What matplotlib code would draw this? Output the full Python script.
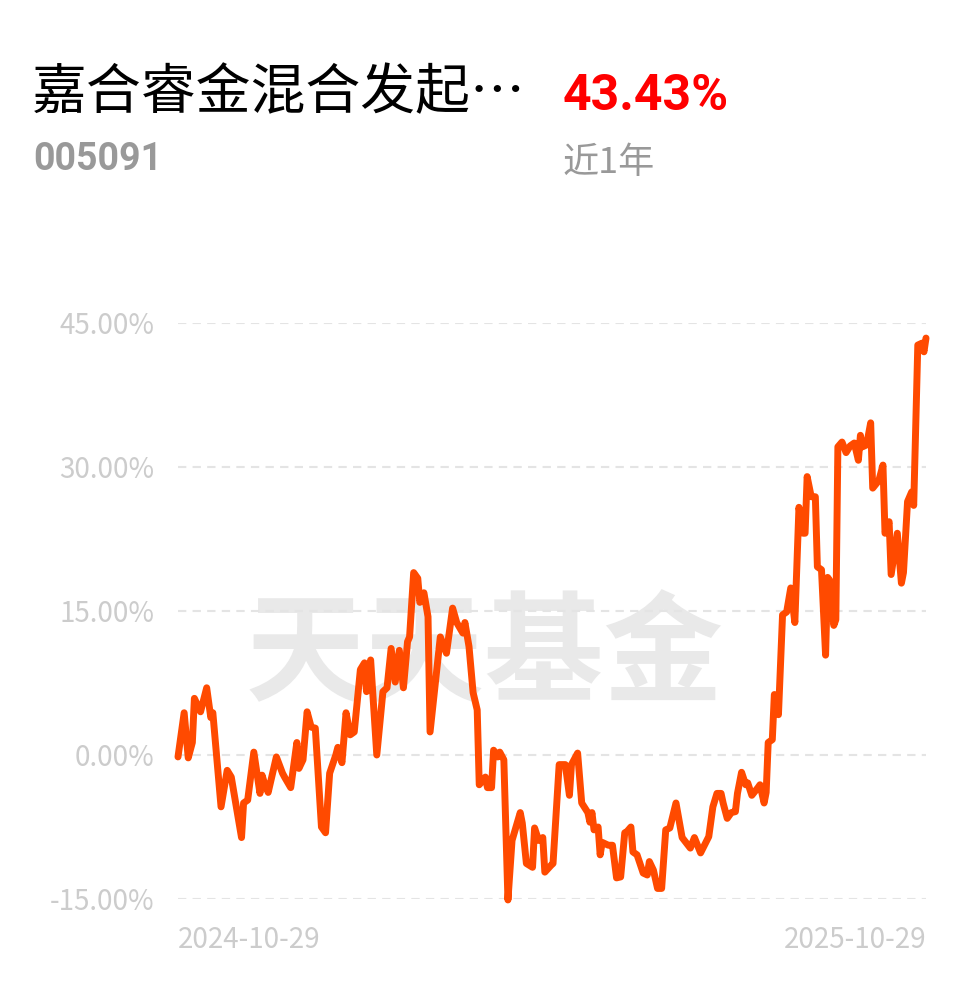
import matplotlib.pyplot as plt

plt.rcParams['font.family'] = ['Noto Sans CJK SC', 'DejaVu Sans']

# trading days since 2024-10-29 and cumulative return in %
days = [0, 3, 5, 7, 8, 11, 14, 16, 17, 21, 24, 26, 31, 32, 34, 37, 40, 41, 42, 44,
        48, 51, 52, 55, 58, 59, 61, 63, 65, 67, 70, 72, 74, 77, 78, 80, 82, 84, 86, 89,
        91, 92, 94, 97, 100, 102, 104, 106, 108, 110, 112, 113, 115, 117, 118, 120, 122, 123, 128, 131,
        134, 136, 139, 140, 142, 144, 146, 147, 150, 151, 153, 154, 156, 157, 159, 161, 163, 167, 168, 170,
        173, 174, 176, 178, 179, 182, 183, 186, 189, 191, 192, 195, 197, 200, 201, 202, 203, 205, 206, 207,
        210, 212, 214, 216, 218, 219, 221, 222, 224, 227, 229, 230, 232, 234, 236, 238, 240, 243, 246, 250,
        252, 255, 259, 261, 263, 265, 266, 268, 270, 272, 273, 275, 277, 278, 280, 283, 284, 286, 287, 288,
        290, 291, 293, 295, 297, 299, 301, 303, 305, 306, 307, 309, 311, 312, 314, 316, 317, 318, 320, 321,
        322, 324, 326, 328, 330, 332, 333, 334, 336, 338, 339, 342, 344, 345, 347, 348, 351, 353, 354, 356,
        358, 359, 361, 363, 364, 365]
returns = [-0.2, 4.4, -0.3, 1.3, 5.9, 4.5, 7.0, 3.9, 4.4, -5.4, -1.6, -2.3, -8.6, -5.0, -4.7, 0.3, -4.0, -2.1, -2.8, -3.9,
           -0.2, -1.9, -2.3, -3.4, 1.3, -1.4, -0.5, 4.5, 2.9, 2.8, -7.5, -8.1, -1.9, 0.0, 0.8, -0.8, 4.4, 2.1, 2.4, 8.9,
           9.6, 6.6, 9.9, 0.0, 6.6, 7.0, 11.1, 7.6, 10.9, 7.0, 11.8, 12.3, 19.0, 18.4, 15.9, 16.9, 14.4, 2.4, 12.3, 10.6,
           15.3, 13.8, 12.7, 13.8, 11.3, 6.5, 4.7, -3.1, -2.3, -3.4, -3.4, 0.5, -0.2, 0.3, -0.5, -15.1, -8.9, -6.0, -7.1, -11.3,
           -11.7, -7.6, -8.9, -8.6, -12.2, -11.5, -11.3, -1.0, -1.0, -4.2, -1.0, 0.2, -5.0, -6.0, -7.0, -6.0, -7.8, -7.5, -10.4, -9.1,
           -9.4, -9.4, -12.8, -12.7, -8.1, -8.0, -7.5, -10.1, -10.4, -12.3, -12.5, -11.1, -12.0, -13.9, -13.9, -7.8, -7.6, -5.0, -8.6, -9.7,
           -8.6, -10.2, -8.5, -5.4, -4.0, -4.0, -5.0, -6.6, -6.0, -5.9, -4.0, -1.8, -3.1, -2.9, -4.2, -3.4, -3.1, -5.0, -3.9, 1.3,
           1.6, 6.3, 4.2, 14.6, 14.9, 17.4, 13.8, 25.8, 23.1, 23.1, 29.0, 26.9, 26.9, 19.6, 19.3, 10.4, 18.5, 18.2, 13.5, 14.1,
           32.1, 32.6, 31.5, 32.2, 32.5, 30.7, 33.3, 32.1, 32.3, 34.6, 27.8, 28.6, 30.2, 23.1, 24.3, 18.8, 23.1, 17.9, 19.0, 26.4,
           27.4, 26.0, 42.7, 42.9, 42.0, 43.43]

yticks = [-15, 0, 15, 30, 45]
ytick_labels = ['-15.00%', '0.00%', '15.00%', '30.00%', '45.00%']
fund_name = '嘉合睿金混合发起…'
fund_code = '005091'
period_return = '43.43%'
period_label = '近1年'
start_label = '2024-10-29'
end_label = '2025-10-29'

fig = plt.figure(figsize=(9.78, 9.86), dpi=100)
ax = fig.add_axes([178 / 978, 1 - 899 / 986, 748 / 978, 576 / 986])

# watermark
ax.text(0.41, 0.42, '天天基金', transform=ax.transAxes, ha='center', va='center',
        fontsize=86, fontweight='bold', color='#e9e9e9', zorder=0)

ax.plot(days, returns, color='#ff4a00', linewidth=5, solid_joinstyle='round',
        solid_capstyle='round', clip_on=False, zorder=3)

ax.set_xlim(0, 365)
ax.set_ylim(-15, 45)
ax.set_yticks(yticks)
ax.set_yticklabels(ytick_labels)
ax.set_xticks([])
ax.grid(axis='y', linestyle=(0, (4, 3)), color='#e4e4e4', linewidth=1.5, zorder=1)
ax.tick_params(axis='y', length=0, pad=17, labelsize=20, labelcolor='#cccccc')
for s in ax.spines.values():
    s.set_visible(False)

ax.text(0, -0.045, start_label, transform=ax.transAxes, ha='left', va='top',
        fontsize=20, color='#cccccc')
ax.text(1, -0.045, end_label, transform=ax.transAxes, ha='right', va='top',
        fontsize=20, color='#cccccc')

fig.text(32 / 978, 1 - 93 / 986, fund_name, ha='left', va='center', fontsize=39.5, color='black')
fig.text(33 / 978, 1 - 160 / 986, fund_code, ha='left', va='center', fontsize=27,
         fontweight='bold', color='#999999', family='Roboto')
fig.text(563 / 978, 1 - 97 / 986, period_return, ha='left', va='center', fontsize=36,
         fontweight='bold', color='#ff0000', family='Roboto')
fig.text(563 / 978, 1 - 163 / 986, period_label, ha='left', va='center', fontsize=26,
         color='#999999')

fig.savefig('out.png', dpi=100)
